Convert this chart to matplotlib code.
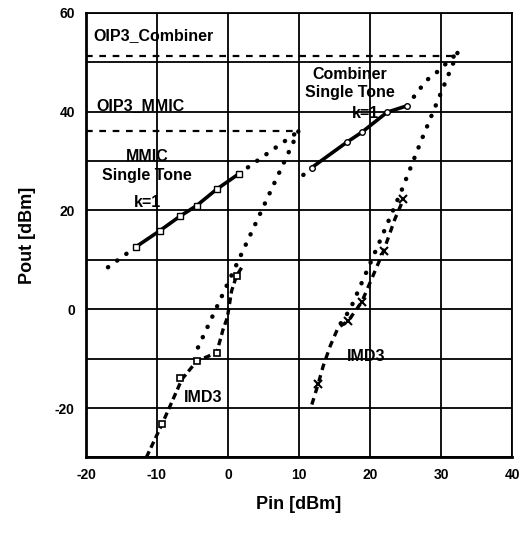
import matplotlib
matplotlib.use("Agg")
import matplotlib.pyplot as plt
import numpy as np

plt.rcParams['font.family'] = ['Liberation Sans', 'DejaVu Sans']
plt.rcParams['font.weight'] = 'bold'
plt.rcParams['axes.unicode_minus'] = False

# MMIC single tone (measured, k=1) and its linear extrapolation
mmic_st_x = [-12.9, -9.6, -6.8, -4.4, -1.6, 1.5]
mmic_st_y = [12.7, 15.9, 18.8, 21.0, 24.3, 27.4]
mmic_st_ext_lo_x = [-16.9, -12.9]
mmic_st_ext_lo_y = [8.5, 12.7]
mmic_st_ext_hi_x = [1.5, 9.9]
mmic_st_ext_hi_y = [27.4, 36.0]

# MMIC IMD3: extrapolated (slope 3) and measured
mmic_imd_ext_x = [9.9, -4.6]
mmic_imd_ext_y = [36.0, -8.9]
mmic_imd_x = [-11.5, -9.3, -6.5, -4.4, -1.6, -0.7, -0.1, 0.5, 1.2, 2.0]
mmic_imd_y = [-30.0, -23.3, -14.2, -10.5, -8.8, -4.1, -1.7, 3.7, 6.8, 8.6]
mmic_imd_mk_x = [-9.3, -6.8, -4.4, -1.6, 1.2]
mmic_imd_mk_y = [-23.3, -13.9, -10.5, -8.8, 6.8]

# Combiner single tone (measured, k=1) and extrapolation
comb_st_x = [11.8, 16.7, 18.8, 22.4, 25.2]
comb_st_y = [28.7, 33.8, 35.8, 39.9, 41.2]
comb_st_ext_lo_x = [10.6, 11.8]
comb_st_ext_lo_y = [27.2, 28.7]
comb_st_ext_hi_x = [25.2, 27.9, 29.4, 32.3]
comb_st_ext_hi_y = [41.2, 46.3, 48.0, 51.9]

# Combiner IMD3: extrapolated and measured
comb_imd_ext_x = [32.3, 27.3, 24.5, 21.2, 17.2, 15.8]
comb_imd_ext_y = [51.9, 34.5, 24.3, 13.2, 0.0, -3.0]
comb_imd_x = [11.8, 12.7, 13.4, 14.4, 15.5, 16.9, 18.8, 20.0, 21.9, 23.5, 24.7]
comb_imd_y = [-19.3, -15.1, -11.5, -7.4, -3.7, -2.4, 1.4, 5.4, 11.8, 18.3, 22.3]
comb_imd_mk_x = [12.7, 16.9, 18.8, 21.9, 24.7]
comb_imd_mk_y = [-15.1, -2.4, 1.4, 11.8, 22.3]

# OIP3 levels
oip3_mmic = 36.0
oip3_mmic_x = [-20, 9.9]
oip3_comb = 51.3
oip3_comb_x = [-20, 32.3]

fig = plt.figure(figsize=(5.21, 5.40), dpi=100)
ax = fig.add_axes([0.165, 0.153, 0.818, 0.823])

dot = (0, (0.05, 2.5))
ax.plot(oip3_comb_x, [oip3_comb, oip3_comb], color='k', lw=1.6, ls=(0, (3, 3)))
ax.plot(oip3_mmic_x, [oip3_mmic, oip3_mmic], color='k', lw=1.6, ls=(0, (3, 3)))

for xs, ys in [(mmic_st_ext_lo_x, mmic_st_ext_lo_y), (mmic_st_ext_hi_x, mmic_st_ext_hi_y),
               (mmic_imd_ext_x, mmic_imd_ext_y), (comb_st_ext_lo_x, comb_st_ext_lo_y),
               (comb_st_ext_hi_x, comb_st_ext_hi_y), (comb_imd_ext_x, comb_imd_ext_y)]:
    ax.plot(xs, ys, color='k', lw=3.2, ls=dot, dash_capstyle='round')

ax.plot(mmic_st_x, mmic_st_y, color='k', lw=2.6, marker='s', ms=4, mfc='white', mew=1.0)
ax.plot(comb_st_x, comb_st_y, color='k', lw=2.6, marker='o', ms=4, mfc='white', mew=1.0)

ax.plot(mmic_imd_x, mmic_imd_y, color='k', lw=2.4, ls=(0, (2, 1.2)))
ax.plot(mmic_imd_mk_x, mmic_imd_mk_y, ls='none', marker='s', ms=5, mfc='white', mec='k', mew=1.2)
ax.plot(comb_imd_x, comb_imd_y, color='k', lw=2.4, ls=(0, (2, 1.6)))
ax.plot(comb_imd_mk_x, comb_imd_mk_y, ls='none', marker='x', ms=6, color='k', mew=1.5)

ax.set_xlim(-20, 40)
ax.set_ylim(-30, 60)
ax.set_xticks(np.arange(-20, 41, 10))
ax.set_yticks(np.arange(-30, 61, 10))
ax.set_yticklabels(['' if v % 20 else str(v) for v in range(-30, 61, 10)])
ax.grid(True, color='k', lw=1.3)
ax.tick_params(length=0, labelsize=10, pad=8)
for lab in ax.get_xticklabels() + ax.get_yticklabels():
    lab.set_fontweight('bold')
for s in ax.spines.values():
    s.set_linewidth(1.3)
ax.spines['left'].set_linewidth(2)
ax.spines['bottom'].set_linewidth(2)

ax.set_xlabel('Pin [dBm]', fontsize=13, fontweight='bold', labelpad=10)
ax.set_ylabel('Pout [dBm]', fontsize=13, fontweight='bold', labelpad=14)

tk = dict(fontsize=11.5, fontweight='bold', color='k')
ax.text(-19, 55.5, 'OIP3_Combiner', ha='left', va='center', **tk)
ax.text(-18.5, 41.3, 'OIP3_MMIC', ha='left', va='center', **tk)
ax.text(-11.4, 31.0, 'MMIC', ha='center', va='center', **tk)
ax.text(-11.4, 27.0, 'Single Tone', ha='center', va='center', **tk)
ax.text(-11.4, 21.7, 'k=1', ha='center', va='center', **tk)
ax.text(17.2, 47.5, 'Combiner', ha='center', va='center', **tk)
ax.text(17.2, 43.8, 'Single Tone', ha='center', va='center', **tk)
ax.text(19.3, 39.6, 'k=1', ha='center', va='center', **tk)
ax.text(-3.5, -17.8, 'IMD3', ha='center', va='center', **tk)
ax.text(19.4, -9.6, 'IMD3', ha='center', va='center', **tk)

fig.savefig('out.png', dpi=100)
